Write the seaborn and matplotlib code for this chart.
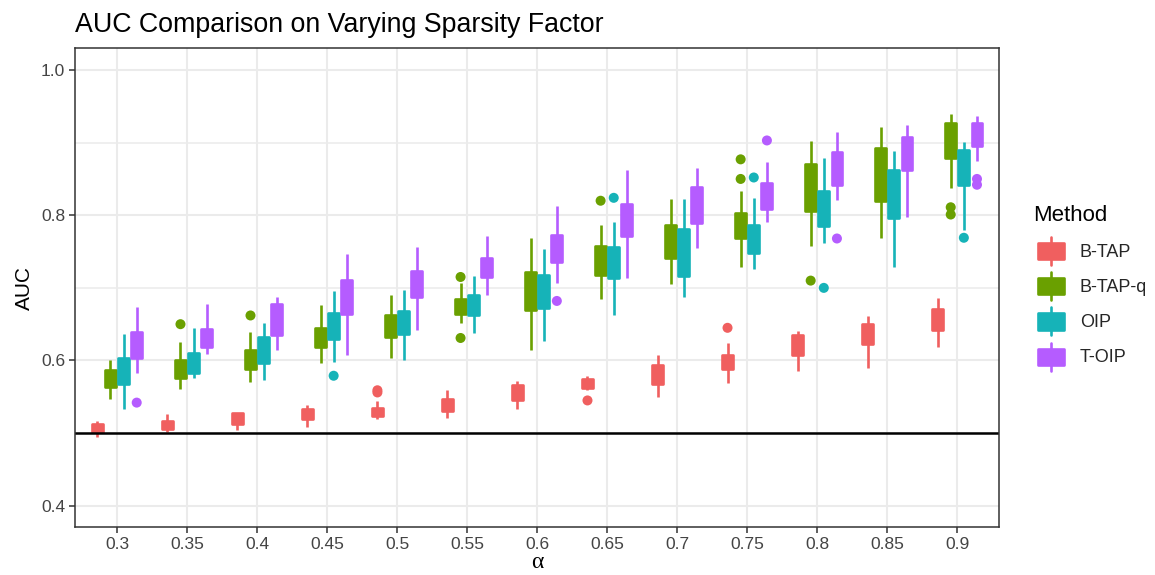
import matplotlib
matplotlib.use("Agg")
import matplotlib.pyplot as plt
import numpy as np
import pandas as pd
import seaborn as sns
from matplotlib.legend_handler import HandlerBase
from matplotlib.patches import Rectangle
from matplotlib.lines import Line2D

# Sparsity factor levels
alpha_levels = ["0.3", "0.35", "0.4", "0.45", "0.5", "0.55", "0.6",
                "0.65", "0.7", "0.75", "0.8", "0.85", "0.9"]
methods = ["B-TAP", "B-TAP-q", "OIP", "T-OIP"]

# B-TAP box summaries
btap_lo = [0.495, 0.501, 0.504, 0.508, 0.520, 0.521, 0.533, 0.560, 0.550, 0.569, 0.585, 0.590, 0.618]
btap_q1 = [0.502, 0.506, 0.513, 0.520, 0.523, 0.530, 0.545, 0.562, 0.568, 0.588, 0.607, 0.623, 0.642]
btap_q3 = [0.513, 0.517, 0.528, 0.533, 0.535, 0.547, 0.566, 0.575, 0.594, 0.608, 0.635, 0.650, 0.671]
btap_hi = [0.516, 0.526, 0.528, 0.539, 0.544, 0.559, 0.572, 0.579, 0.607, 0.624, 0.640, 0.661, 0.686]
btap_out = [[], [], [], [], [0.559, 0.556], [], [], [0.545], [], [0.645], [], [], []]

# B-TAP-q box summaries
btapq_lo = [0.547, 0.561, 0.570, 0.597, 0.603, 0.652, 0.614, 0.685, 0.705, 0.729, 0.758, 0.768, 0.838]
btapq_q1 = [0.564, 0.576, 0.588, 0.618, 0.632, 0.664, 0.670, 0.718, 0.741, 0.769, 0.806, 0.820, 0.879]
btapq_q3 = [0.587, 0.600, 0.614, 0.645, 0.662, 0.685, 0.722, 0.758, 0.787, 0.803, 0.871, 0.892, 0.927]
btapq_hi = [0.601, 0.626, 0.639, 0.676, 0.690, 0.707, 0.768, 0.787, 0.823, 0.834, 0.902, 0.921, 0.939]
btapq_out = [[], [0.650], [0.662], [], [], [0.715, 0.631], [], [0.820], [], [0.877, 0.850], [0.710], [], [0.811, 0.801]]

# OIP box summaries
oip_lo = [0.533, 0.576, 0.573, 0.598, 0.600, 0.638, 0.627, 0.663, 0.687, 0.726, 0.762, 0.729, 0.780]
oip_q1 = [0.568, 0.583, 0.596, 0.630, 0.636, 0.662, 0.672, 0.713, 0.717, 0.748, 0.785, 0.796, 0.841]
oip_q3 = [0.603, 0.610, 0.632, 0.665, 0.668, 0.690, 0.718, 0.756, 0.781, 0.787, 0.834, 0.863, 0.890]
oip_hi = [0.637, 0.645, 0.652, 0.696, 0.697, 0.717, 0.754, 0.791, 0.822, 0.824, 0.879, 0.889, 0.901]
oip_out = [[], [], [], [0.579], [], [], [], [0.824], [], [0.852], [0.700], [], [0.769]]

# T-OIP box summaries
toip_lo = [0.583, 0.609, 0.615, 0.607, 0.642, 0.690, 0.707, 0.714, 0.755, 0.791, 0.821, 0.798, 0.875]
toip_q1 = [0.604, 0.618, 0.635, 0.664, 0.688, 0.715, 0.735, 0.772, 0.789, 0.809, 0.841, 0.863, 0.895]
toip_q3 = [0.639, 0.644, 0.678, 0.711, 0.723, 0.741, 0.773, 0.815, 0.839, 0.845, 0.887, 0.908, 0.927]
toip_hi = [0.674, 0.678, 0.688, 0.746, 0.756, 0.772, 0.813, 0.863, 0.865, 0.873, 0.915, 0.924, 0.937]
toip_out = [[0.542], [], [], [], [], [], [0.682], [], [], [0.903], [0.768], [], [0.850, 0.842]]

colors = ["#F05F5F", "#6AA000", "#16B3B8", "#B55CFF"]

summaries = {
    "B-TAP": (btap_lo, btap_q1, btap_q3, btap_hi, btap_out),
    "B-TAP-q": (btapq_lo, btapq_q1, btapq_q3, btapq_hi, btapq_out),
    "OIP": (oip_lo, oip_q1, oip_q3, oip_hi, oip_out),
    "T-OIP": (toip_lo, toip_q1, toip_q3, toip_hi, toip_out),
}

sns.set_theme(style="whitegrid")
plt.rcParams["font.family"] = ["Liberation Sans", "DejaVu Sans"]

fig = plt.figure(figsize=(11.55, 5.75), dpi=100)
ax = fig.add_axes([75 / 1155, 47.7 / 575, 924.3 / 1155, 479.0 / 575])
ax.set_facecolor("white")

dodge = 0.1875
box_w = 0.155
lw = 1.9
base = np.arange(len(alpha_levels))

out_rows = []
for k, (m, c) in enumerate(zip(methods, colors)):
    lo, q1, q3, hi, out = summaries[m]
    pos = base + (k - 1.5) * dodge
    stats = [dict(whislo=a, q1=b, med=b, q3=d, whishi=e, fliers=[])
             for a, b, d, e in zip(lo, q1, q3, hi)]
    ax.bxp(stats, positions=pos, widths=box_w, patch_artist=True,
           showfliers=False, showcaps=False, manage_ticks=False,
           boxprops=dict(facecolor=c, edgecolor=c, linewidth=lw, joinstyle="round"),
           whiskerprops=dict(color=c, linewidth=lw, solid_capstyle="butt"),
           medianprops=dict(linewidth=0))
    for p, vals in zip(pos, out):
        for v in vals:
            out_rows.append({"x": p, "AUC": v, "Method": m})

outliers = pd.DataFrame(out_rows)
sns.scatterplot(data=outliers, x="x", y="AUC", hue="Method", hue_order=methods,
                palette=colors, s=52, linewidth=0, legend=False, ax=ax, zorder=3)

ax.axhline(0.5, color="black", linewidth=1.8, zorder=2.5)

ax.set_xlim(-0.6, 12.6)
ax.set_ylim(0.3703, 1.0299)
ax.set_xticks(base)
ax.set_xticklabels(alpha_levels)
ax.set_yticks([0.4, 0.6, 0.8, 1.0])
ax.set_yticklabels(["0.4", "0.6", "0.8", "1.0"])
ax.set_yticks([0.5, 0.7, 0.9], minor=True)

ax.grid(which="major", axis="both", color="#EBEBEB", linewidth=1.5)
ax.grid(which="minor", axis="y", color="#EBEBEB", linewidth=1.1)
ax.grid(which="minor", axis="x", visible=False)
ax.set_axisbelow(True)

for s in ax.spines.values():
    s.set_visible(True)
    s.set_color("#333333")
    s.set_linewidth(1.1)

ax.tick_params(axis="both", which="major", direction="out", length=4, width=1.1,
               color="#333333", labelsize=12.5, labelcolor="#444444", pad=3,
               bottom=True, left=True)
ax.tick_params(axis="y", which="minor", length=0)

ax.set_xlabel("α", fontsize=17, color="black", labelpad=0,
              family=["Liberation Serif", "DejaVu Serif"])
ax.set_ylabel("AUC", fontsize=15, color="black", labelpad=5)
ax.set_title("AUC Comparison on Varying Sparsity Factor", loc="left",
             fontsize=19.3, color="black", pad=12)


class BoxKey(HandlerBase):
    def create_artists(self, legend, orig_handle, xdescent, ydescent,
                       width, height, fontsize, trans):
        c = orig_handle.get_facecolor()
        x0, y0 = -xdescent, -ydescent
        cx = x0 + width / 2
        stem = Line2D([cx, cx], [y0, y0 + height], color=c, linewidth=lw,
                      transform=trans)
        rect = Rectangle((x0, y0 + height * 0.21), width, height * 0.58,
                         facecolor=c, edgecolor=c, linewidth=lw,
                         joinstyle="round", transform=trans)
        return [stem, rect]


fig.text(1033 / 1155, 1 - 220.7 / 575, "Method", fontsize=16, color="black",
         ha="left", va="baseline")

handles = [Rectangle((0, 0), 1, 1, facecolor=c) for c in colors]
leg = fig.legend(handles, methods, loc="upper left",
                 bbox_to_anchor=(1038 / 1155, 1 - 237 / 575), frameon=False,
                 fontsize=13, handler_map={Rectangle: BoxKey()},
                 handlelength=1.46, handleheight=2.01, labelspacing=0.40,
                 handletextpad=0.85, borderpad=0, borderaxespad=0)

fig.savefig("out.png", dpi=100, facecolor="white")
